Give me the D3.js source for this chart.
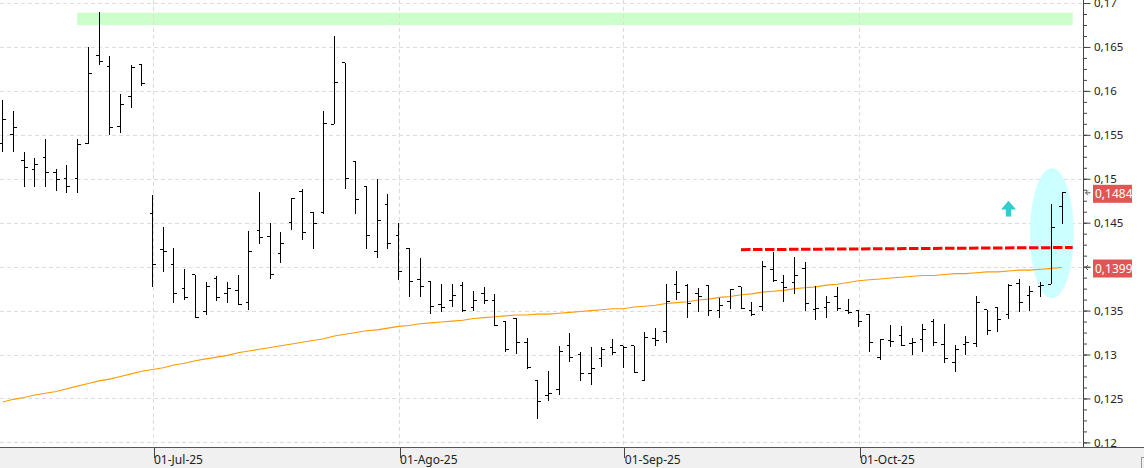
<!DOCTYPE html>
<html><head><meta charset="utf-8">
<script src="https://cdn.jsdelivr.net/npm/d3@7"></script>
<style>
html,body{margin:0;padding:0;background:#fff;}
svg{display:block;}
text{font-family:"Noto Sans","Open Sans",sans-serif;}
</style></head>
<body>
<svg id="chart" width="1144" height="468"></svg>
<script>
// ---------- DATA ----------
const dates = [
"2025-06-11","2025-06-12","2025-06-13","2025-06-16","2025-06-17","2025-06-18","2025-06-19","2025-06-20","2025-06-23","2025-06-24","2025-06-25","2025-06-26","2025-06-27","2025-06-30",
"2025-07-01","2025-07-02","2025-07-03","2025-07-04","2025-07-07","2025-07-08","2025-07-09","2025-07-10","2025-07-11","2025-07-14","2025-07-15","2025-07-16","2025-07-17","2025-07-18","2025-07-21","2025-07-22","2025-07-23","2025-07-24","2025-07-25","2025-07-28","2025-07-29","2025-07-30","2025-07-31",
"2025-08-01","2025-08-04","2025-08-05","2025-08-06","2025-08-07","2025-08-08","2025-08-11","2025-08-12","2025-08-13","2025-08-14","2025-08-15","2025-08-18","2025-08-19","2025-08-20","2025-08-21","2025-08-22","2025-08-25","2025-08-26","2025-08-27","2025-08-28","2025-08-29",
"2025-09-01","2025-09-02","2025-09-03","2025-09-04","2025-09-05","2025-09-08","2025-09-09","2025-09-10","2025-09-11","2025-09-12","2025-09-15","2025-09-16","2025-09-17","2025-09-18","2025-09-19","2025-09-22","2025-09-23","2025-09-24","2025-09-25","2025-09-26","2025-09-29","2025-09-30",
"2025-10-01","2025-10-02","2025-10-03","2025-10-06","2025-10-07","2025-10-08","2025-10-09","2025-10-10","2025-10-13","2025-10-14","2025-10-15","2025-10-16","2025-10-17","2025-10-20","2025-10-21","2025-10-22","2025-10-23","2025-10-24","2025-10-27","2025-10-28"
];
const open = [0.1540,0.1550,0.1521,0.1510,0.1524,0.1507,0.1500,0.1500,0.1540,0.1640,0.1628,0.1560,0.1594,0.1630,
0.1460,0.1420,0.1402,0.1375,0.1391,0.1349,0.1386,0.1370,0.1373,0.1359,0.1441,0.1434,0.1415,0.1450,0.1486,0.1462,0.1462,0.1562,0.1632,0.1520,0.1491,0.1417,0.1471,
0.1436,0.1421,0.1385,0.1383,0.1357,0.1362,0.1378,0.1354,0.1369,0.1362,0.1338,0.1341,0.1314,0.1271,0.1253,0.1260,0.1310,0.1300,0.1278,0.1295,0.1308,
0.1310,0.1310,0.1271,0.1318,0.1326,0.1380,0.1378,0.1370,0.1378,0.1350,0.1360,0.1377,0.1350,0.1355,0.1397,0.1382,0.1382,0.1398,0.1351,0.1353,0.1366,0.1350,
0.1350,0.1346,0.1297,0.1316,0.1322,0.1312,0.1317,0.1338,0.1311,0.1291,0.1311,0.1312,0.1351,0.1354,0.1346,0.1381,0.1367,0.1377,0.1380,0.1468];
const high = [0.1590,0.1577,0.1531,0.1524,0.1545,0.1511,0.1516,0.1545,0.1650,0.1690,0.1640,0.1597,0.1630,0.1630,
0.1481,0.1445,0.1421,0.1397,0.1391,0.1383,0.1389,0.1383,0.1391,0.1441,0.1485,0.1450,0.1439,0.1478,0.1488,0.1462,0.1577,0.1662,0.1632,0.1520,0.1491,0.1500,0.1483,
0.1450,0.1421,0.1410,0.1383,0.1380,0.1380,0.1383,0.1372,0.1377,0.1369,0.1338,0.1341,0.1319,0.1271,0.1281,0.1310,0.1324,0.1303,0.1308,0.1308,0.1318,
0.1310,0.1310,0.1326,0.1330,0.1380,0.1395,0.1380,0.1376,0.1378,0.1364,0.1374,0.1377,0.1360,0.1406,0.1417,0.1390,0.1411,0.1405,0.1378,0.1367,0.1377,0.1363,
0.1350,0.1346,0.1318,0.1334,0.1332,0.1319,0.1335,0.1340,0.1335,0.1311,0.1321,0.1367,0.1351,0.1354,0.1380,0.1386,0.1378,0.1383,0.1471,0.1485];
const low = [0.1531,0.1530,0.1491,0.1491,0.1491,0.1486,0.1484,0.1484,0.1539,0.1629,0.1550,0.1552,0.1581,0.1605,
0.1377,0.1394,0.1359,0.1362,0.1341,0.1345,0.1361,0.1359,0.1357,0.1351,0.1426,0.1386,0.1404,0.1442,0.1430,0.1420,0.1460,0.1562,0.1488,0.1460,0.1420,0.1410,0.1420,
0.1385,0.1366,0.1366,0.1346,0.1348,0.1354,0.1348,0.1350,0.1357,0.1333,0.1303,0.1301,0.1283,0.1227,0.1247,0.1254,0.1291,0.1270,0.1265,0.1286,0.1299,
0.1285,0.1279,0.1270,0.1310,0.1313,0.1362,0.1341,0.1348,0.1344,0.1342,0.1352,0.1352,0.1344,0.1349,0.1383,0.1360,0.1369,0.1349,0.1339,0.1342,0.1350,0.1346,
0.1331,0.1303,0.1294,0.1309,0.1310,0.1300,0.1303,0.1310,0.1290,0.1280,0.1300,0.1308,0.1322,0.1326,0.1340,0.1348,0.1350,0.1366,0.1380,0.1449];
const close = [0.1568,0.1558,0.1513,0.1516,0.1507,0.1499,0.1491,0.1539,0.1620,0.1634,0.1558,0.1584,0.1627,0.1608,
0.1403,0.1417,0.1369,0.1365,0.1342,0.1377,0.1365,0.1375,0.1357,0.1417,0.1433,0.1391,0.1426,0.1478,0.1439,0.1449,0.1563,0.1610,0.1500,0.1476,0.1436,0.1453,0.1426,
0.1394,0.1383,0.1377,0.1355,0.1353,0.1367,0.1350,0.1362,0.1361,0.1333,0.1306,0.1314,0.1285,0.1247,0.1256,0.1303,0.1297,0.1278,0.1284,0.1306,0.1302,
0.1308,0.1279,0.1319,0.1316,0.1360,0.1371,0.1358,0.1366,0.1350,0.1356,0.1374,0.1352,0.1345,0.1400,0.1384,0.1376,0.1390,0.1358,0.1352,0.1359,0.1352,0.1348,
0.1338,0.1314,0.1317,0.1315,0.1310,0.1314,0.1328,0.1314,0.1295,0.1306,0.1314,0.1359,0.1327,0.1340,0.1379,0.1359,0.1372,0.1378,0.1444,0.1484];
// moving average (orange)
const movingAvg = [0.1246,0.1249,0.1251,0.1254,0.1256,0.1258,0.1261,0.1264,0.1267,0.1270,0.1272,0.1275,0.1278,0.1281,
0.1283,0.1285,0.1288,0.1290,0.1293,0.1295,0.1297,0.1299,0.1302,0.1304,0.1306,0.1308,0.1310,0.1312,0.1314,0.1316,0.1318,0.1321,0.1323,0.1325,0.1327,0.1328,0.1330,
0.1332,0.1333,0.1335,0.1336,0.1337,0.1338,0.1339,0.1341,0.1342,0.1343,0.1344,0.1345,0.1345,0.1346,0.1346,0.1347,0.1348,0.1349,0.1350,0.1351,0.1352,
0.1352,0.1354,0.1355,0.1356,0.1358,0.1359,0.1360,0.1362,0.1363,0.1365,0.1366,0.1368,0.1369,0.1371,0.1372,0.1373,0.1375,0.1376,0.1377,0.1379,0.1380,0.1382,
0.1384,0.1385,0.1386,0.1387,0.1388,0.1389,0.1390,0.1390,0.1391,0.1392,0.1392,0.1393,0.1394,0.1394,0.1395,0.1396,0.1396,0.1397,0.1398,0.1399];

const yTicks = [0.12,0.125,0.13,0.135,0.14,0.145,0.15,0.155,0.16,0.165,0.17];
// the 0,14 label is hidden behind the 0,1399 price tag in the reference
const yTickLabels = ["0,12","0,125","0,13","0,135","","0,145","0,15","0,155","0,16","0,165","0,17"];
const monthTickDates = ["2025-07-01","2025-08-01","2025-09-01","2025-10-01"];
const monthTickLabels = ["01-Jul-25","01-Ago-25","01-Sep-25","01-Oct-25"];
const priceTags = [0.1484, 0.1399];
const priceTagLabels = ["0,1484","0,1399"];
// annotations (in bar-index / price units)
const greenZoneIdx = [6.95, 100.0];
const greenZoneVal = [0.1675, 0.1689];
const resistIdx = [69, 100];
const resistVal = [0.14193, 0.14218];
const ellipseIdx = [96.0, 100.1];
const ellipseVal = [0.1364, 0.1512];
const arrowIdx = 94;
const arrowVal = [0.1457, 0.1465, 0.1475]; // stem bottom, head base, tip

// ---------- LAYOUT ----------
const W = 1144, H = 468;
const axisX = 1083.5, bottomY = 447.5;
const svg = d3.select("#chart");

const x = d3.scaleLinear().domain([0, dates.length - 1]).range([2.7, 1062]);
const y = d3.scaleLinear().domain([0.12, 0.17]).range([442.4, 3.0]);

// bottom panel
svg.append("rect").attr("x",0).attr("y",bottomY).attr("width",W).attr("height",H-bottomY).attr("fill","#f0f0f0");

// green zone
svg.append("rect")
  .attr("x", x(greenZoneIdx[0])).attr("width", x(greenZoneIdx[1]) - x(greenZoneIdx[0]))
  .attr("y", y(greenZoneVal[1])).attr("height", y(greenZoneVal[0]) - y(greenZoneVal[1]))
  .attr("fill", "#ccffcc");

// grid
const grid = svg.append("g").attr("stroke","#dcdcdc").attr("stroke-dasharray","4,3").attr("shape-rendering","crispEdges");
grid.selectAll(".h").data(yTicks).join("line")
  .attr("x1",0).attr("x2",axisX).attr("y1",d=>Math.round(y(d))+0.5).attr("y2",d=>Math.round(y(d))+0.5);
const monthIdx = monthTickDates.map(d => dates.indexOf(d));
grid.selectAll(".v").data(monthIdx).join("line")
  .attr("y1",0).attr("y2",bottomY).attr("x1",d=>Math.round(x(d))+0.5).attr("x2",d=>Math.round(x(d))+0.5);

// ellipse
svg.append("ellipse")
  .attr("cx",(x(ellipseIdx[0])+x(ellipseIdx[1]))/2).attr("rx",(x(ellipseIdx[1])-x(ellipseIdx[0]))/2)
  .attr("cy",(y(ellipseVal[0])+y(ellipseVal[1]))/2).attr("ry",(y(ellipseVal[0])-y(ellipseVal[1]))/2)
  .attr("fill","#ccffff");

// moving average
svg.append("path").datum(movingAvg)
  .attr("d", d3.line().x((d,i)=>x(i)).y(d=>y(d)))
  .attr("fill","none").attr("stroke","#ff9a00").attr("stroke-width",1.1);

// resistance line
svg.append("line")
  .attr("x1",x(resistIdx[0])).attr("x2",x(resistIdx[1]))
  .attr("y1",y(resistVal[0])).attr("y2",y(resistVal[1]))
  .attr("stroke","#ff0000").attr("stroke-width",3).attr("stroke-dasharray","9.5,2.5");

// arrow
{
  const cx = x(arrowIdx);
  const p = d3.path();
  p.moveTo(cx, y(arrowVal[2]));
  p.lineTo(cx+7.5, y(arrowVal[1]));
  p.lineTo(cx+2.7, y(arrowVal[1]));
  p.lineTo(cx+2.7, y(arrowVal[0]));
  p.lineTo(cx-2.7, y(arrowVal[0]));
  p.lineTo(cx-2.7, y(arrowVal[1]));
  p.lineTo(cx-7.5, y(arrowVal[1]));
  p.closePath();
  svg.append("path").attr("d",p.toString()).attr("fill","#33cccc");
}

// OHLC bars
const bars = svg.append("g").attr("stroke","#000").attr("stroke-width",1).attr("shape-rendering","crispEdges");
const idx = d3.range(dates.length);
bars.selectAll(".hl").data(idx).join("line")
  .attr("x1",i=>x(i)).attr("x2",i=>x(i)).attr("y1",i=>y(high[i])).attr("y2",i=>y(low[i]));
bars.selectAll(".o").data(idx).join("line")
  .attr("x1",i=>x(i)-3).attr("x2",i=>x(i)).attr("y1",i=>y(open[i])).attr("y2",i=>y(open[i]));
bars.selectAll(".c").data(idx).join("line")
  .attr("x1",i=>x(i)).attr("x2",i=>x(i)+3.5).attr("y1",i=>y(close[i])).attr("y2",i=>y(close[i]));

// right axis
svg.append("rect").attr("x",axisX).attr("y",0).attr("width",W-axisX).attr("height",bottomY).attr("fill","#fff");
const minor = d3.range(0, 41).map(k => 0.12 + k*0.00125);
const gMinor = svg.append("g").attr("transform",`translate(${axisX},0)`)
  .call(d3.axisRight(y).tickValues(minor).tickSize(3.5).tickFormat(""));
gMinor.select(".domain").remove();
gMinor.selectAll("line").attr("stroke","#444");
const gy = svg.append("g").attr("transform",`translate(${axisX},0)`)
  .call(d3.axisRight(y).tickValues(yTicks).tickSize(7).tickPadding(3.5).tickFormat((d,i)=>yTickLabels[i]));
gy.select(".domain").remove();
gy.selectAll("line").attr("stroke","#444");
gy.selectAll("text").attr("font-family",'"Noto Sans",sans-serif').attr("font-size",11.5).attr("fill","#222");
svg.append("line").attr("x1",axisX).attr("x2",axisX).attr("y1",0).attr("y2",bottomY).attr("stroke","#444").attr("shape-rendering","crispEdges");

// price tags
const tags = svg.append("g");
priceTags.forEach((v,i)=>{
  const yy = y(v);
  tags.append("rect").attr("x",1093).attr("y",yy-8).attr("width",39).attr("height",18).attr("fill","#e25555");
  tags.append("text").attr("x",1095).attr("y",yy+5.5).attr("fill","#fff")
    .attr("font-size",12).text(priceTagLabels[i]);
  tags.append("path").attr("d",`M1085.5,${yy} H1090.5 M1088,${yy-2.5} L1085.5,${yy} L1088,${yy+2.5}`)
    .attr("stroke","#555").attr("fill","none").attr("stroke-width",1);
});

// bottom axis
svg.append("line").attr("x1",0).attr("x2",W).attr("y1",bottomY).attr("y2",bottomY).attr("stroke","#555").attr("shape-rendering","crispEdges");
const gx = svg.append("g").attr("transform",`translate(0,${bottomY})`)
  .call(d3.axisBottom(x).tickValues(monthIdx).tickSize(10).tickFormat((d,i)=>monthTickLabels[i]));
gx.select(".domain").remove();
gx.selectAll("line").attr("stroke","#444").attr("shape-rendering","crispEdges")
  .attr("transform",d=>`translate(${Math.round(x(d))+0.5-x(d)},0)`);
gx.selectAll("text").attr("text-anchor","start").attr("x",1).attr("dy",0).attr("y",16)
  .attr("font-family",'"Noto Sans",sans-serif').attr("font-size",12).attr("fill","#222");
// small grip box bottom-right
svg.append("rect").attr("x",1141.5).attr("y",457.5).attr("width",4).attr("height",12).attr("fill","none").attr("stroke","#999");
</script>
</body></html>
